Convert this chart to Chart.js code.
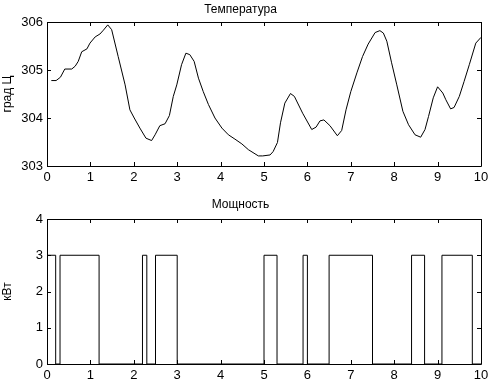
<!DOCTYPE html>
<html>
<head>
<meta charset="utf-8">
<script src="https://cdn.jsdelivr.net/npm/chart.js@4.4.1/dist/chart.umd.min.js"></script>
<style>
  html, body { margin: 0; padding: 0; background: #fff; }
  #wrap { position: relative; width: 500px; height: 386px; }
  .box { position: absolute; left: 0; width: 500px; height: 193px; }
</style>
</head>
<body>
<div id="wrap">
  <div class="box" style="top:0"><canvas id="tempChart"></canvas></div>
  <div class="box" style="top:193px"><canvas id="powerChart"></canvas></div>
</div>
<script>
// time axis (shared)
const xTicks = [0, 1, 2, 3, 4, 5, 6, 7, 8, 9, 10];

// temperature
const tempX = [0.1, 0.21, 0.31, 0.41, 0.57, 0.65, 0.72, 0.80, 0.92, 0.99, 1.11, 1.22, 1.30, 1.40, 1.49, 1.64, 1.80, 1.91, 2.01, 2.14,
  2.28, 2.41, 2.49, 2.60, 2.72, 2.82, 2.91, 2.99, 3.10, 3.20, 3.29, 3.39, 3.49, 3.60, 3.72, 3.87, 4.03, 4.18, 4.33, 4.49,
  4.64, 4.87, 4.97, 5.14, 5.21, 5.31, 5.38, 5.48, 5.61, 5.70, 5.89, 6.10, 6.20, 6.29, 6.38, 6.52, 6.69, 6.79, 6.89, 7.00,
  7.14, 7.27, 7.40, 7.56, 7.67, 7.75, 7.83, 7.94, 8.06, 8.20, 8.33, 8.48, 8.61, 8.71, 8.79, 8.90, 9.00, 9.12, 9.19, 9.30,
  9.38, 9.50, 9.61, 9.73, 9.88, 10.0];
const tempY = [304.78, 304.78, 304.85, 305.02, 305.02, 305.08, 305.18, 305.38, 305.44, 305.56, 305.69, 305.75, 305.83, 305.94, 305.84, 305.28, 304.69, 304.17, 304.0, 303.79,
  303.58, 303.53, 303.65, 303.84, 303.88, 304.05, 304.45, 304.69, 305.11, 305.35, 305.32, 305.18, 304.83, 304.55, 304.28, 304.0, 303.79, 303.65, 303.56, 303.46,
  303.34, 303.21, 303.21, 303.23, 303.30, 303.49, 303.90, 304.31, 304.51, 304.45, 304.10, 303.76, 303.81, 303.94, 303.96, 303.84, 303.63, 303.74, 304.17, 304.55,
  304.94, 305.28, 305.54, 305.78, 305.82, 305.77, 305.60, 305.15, 304.69, 304.14, 303.86, 303.65, 303.60, 303.76, 304.03, 304.42, 304.65, 304.52, 304.38, 304.19,
  304.22, 304.45, 304.76, 305.11, 305.56, 305.68];
const tempTicks = [303, 304, 305, 306];

// power: value holds from each switch time until the next one
const powerX = [0, 0.2, 0.3, 1.2, 2.2, 2.3, 2.5, 3.0, 5.0, 5.3, 5.9, 6.0, 6.5, 7.5, 8.4, 8.7, 9.1, 9.8, 10];
const powerY = [3, 0, 3, 0, 3, 0, 3, 0, 3, 0, 3, 0, 3, 0, 3, 0, 3, 0, 0];
const powerTicks = [0, 1, 2, 3, 4];

const FONT = 'Arial, "Liberation Sans", sans-serif';

// matlab-like box with inward ticks on all four sides
const boxTicks = {
  id: 'boxTicks',
  afterDraw(chart) {
    const ctx = chart.ctx;
    const a = chart.chartArea;
    const xs = chart.scales.x, ys = chart.scales.y;
    const len = 4;
    ctx.save();
    ctx.strokeStyle = '#000';
    ctx.lineWidth = 1;
    ctx.beginPath();
    ctx.rect(Math.round(a.left) + 0.5, Math.round(a.top) + 0.5,
      Math.round(a.right - a.left), Math.round(a.bottom - a.top));
    xs.ticks.forEach(t => {
      const px = Math.round(xs.getPixelForValue(t.value)) + 0.5;
      ctx.moveTo(px, a.bottom); ctx.lineTo(px, a.bottom - len);
      ctx.moveTo(px, a.top); ctx.lineTo(px, a.top + len);
    });
    ys.ticks.forEach(t => {
      const py = Math.round(ys.getPixelForValue(t.value)) + 0.5;
      ctx.moveTo(a.left, py); ctx.lineTo(a.left + len, py);
      ctx.moveTo(a.right, py); ctx.lineTo(a.right - len, py);
    });
    ctx.stroke();
    ctx.restore();
  }
};

function makeChart(id, xs, ys, yTicks, title, yLabel, stepped, titlePad, xHeight) {
  return new Chart(document.getElementById(id), {
    type: 'line',
    data: {
      datasets: [{
        data: xs.map((x, i) => ({ x: x, y: ys[i] })),
        borderColor: '#000',
        borderWidth: 1,
        pointRadius: 0,
        tension: 0,
        stepped: stepped,
        clip: false
      }]
    },
    options: {
      responsive: false,
      animation: false,
      maintainAspectRatio: false,
      layout: { padding: { left: 0, right: 19, top: 0, bottom: 0 } },
      plugins: {
        legend: { display: false },
        tooltip: { enabled: false },
        title: {
          display: true,
          text: title,
          color: '#000',
          font: { family: FONT, size: 12, weight: 'normal' },
          padding: titlePad
        }
      },
      scales: {
        x: {
          type: 'linear',
          min: 0, max: 10,
          afterBuildTicks: s => { s.ticks = xTicks.map(v => ({ value: v })); },
          afterFit: s => { s.height = xHeight; },
          grid: { display: false, drawTicks: false },
          border: { display: false },
          ticks: { color: '#000', padding: 4, maxRotation: 0, font: { family: FONT, size: 13 } }
        },
        y: {
          min: yTicks[0], max: yTicks[yTicks.length - 1],
          afterBuildTicks: s => { s.ticks = yTicks.map(v => ({ value: v })); },
          afterFit: s => { s.width = 47; },
          grid: { display: false, drawTicks: false },
          border: { display: false },
          ticks: { color: '#000', padding: 4, font: { family: FONT, size: 13 } },
          title: {
            display: true, text: yLabel, color: '#000',
            font: { family: FONT, size: 12 }, padding: 0
          }
        }
      }
    },
    plugins: [boxTicks]
  });
}

function sizeCanvas(id) {
  const c = document.getElementById(id);
  c.width = 500; c.height = 193;
  c.style.width = '500px'; c.style.height = '193px';
}
sizeCanvas('tempChart');
sizeCanvas('powerChart');

makeChart('tempChart', tempX, tempY, tempTicks, 'Температура', 'град Ц', false, { top: 2, bottom: 5.6 }, 27);
makeChart('powerChart', powerX, powerY, powerTicks, 'Мощность', 'кВт', 'before', { top: 4.5, bottom: 7.1 }, 22);
</script>
</body>
</html>
